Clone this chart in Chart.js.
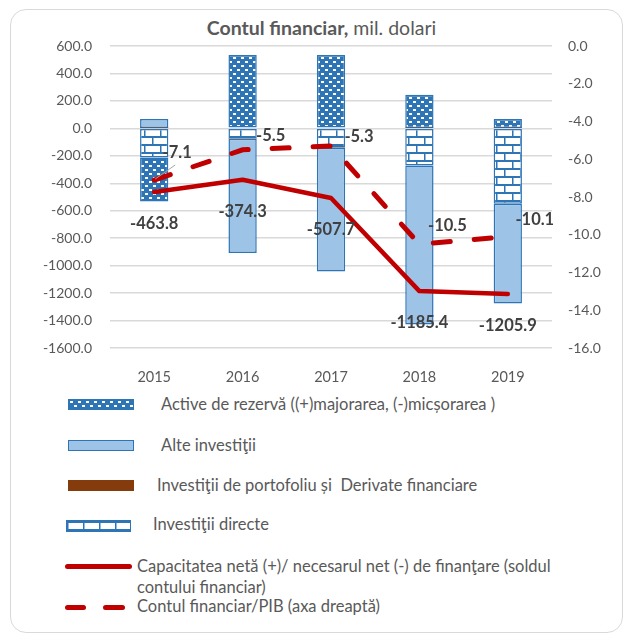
<!DOCTYPE html>
<html>
<head>
<meta charset="utf-8">
<title>Contul financiar</title>
<script src="https://cdn.jsdelivr.net/npm/chart.js"></script>
<style>
  body { margin:0; background:#fff; font-family:Lato, sans-serif; color:#595959; }
  #frame { position:absolute; left:10px; top:9px; width:611px; height:622px; border:1.5px solid #d9d9d9; border-radius:16px; }
  #title { position:absolute; left:0; width:633px; top:16px; line-height:24px; text-align:center; font-size:19.5px; color:#595959; padding-left:10px; box-sizing:border-box; }
  #chartBox { position:absolute; left:0; top:0; width:633px; height:392px; }
  .sw { position:absolute; box-sizing:border-box; }
  .lt { position:absolute; font-size:16.5px; line-height:21px; color:#595959; white-space:nowrap; }
</style>
</head>
<body>
<div id="frame"></div>
<div id="title"><b>Contul financiar,</b> mil. dolari</div>
<div id="chartBox"><canvas id="fin"></canvas></div>

<div class="sw" id="swRez" style="left:68px; top:399px; width:66px; height:11px; border:1.5px solid #2E75B6;"></div>
<div class="lt" style="left:161px; top:394px;">Active de rezervă ((+)majorarea, (-)micșorarea )</div>

<div class="sw" style="left:68px; top:440px; width:66px; height:11px; border:1.5px solid #2E75B6; background:#9DC3E6;"></div>
<div class="lt" style="left:161px; top:435px;">Alte investiţii</div>

<div class="sw" style="left:68px; top:480px; width:66px; height:11px; background:#843C0C;"></div>
<div class="lt" style="left:157px; top:475px;">Investiţii de portofoliu și&nbsp; Derivate financiare</div>

<div class="sw" id="swDir" style="left:66px; top:520px; width:65px; height:12px; border:1.5px solid #2E75B6;"></div>
<div class="lt" style="left:153px; top:514px;">Investiţii directe</div>

<div class="sw" style="left:65px; top:564px; width:67px; height:5px; border-radius:3px; background:#C00000;"></div>
<div class="lt" style="left:137px; top:556px;">Capacitatea netă (+)/ necesarul net (-) de finanţare (soldul<br>contului financiar)</div>

<div class="sw" style="left:65px; top:605px; width:21px; height:5px; border-radius:3px; background:#C00000;"></div>
<div class="sw" style="left:103px; top:605px; width:22px; height:5px; border-radius:3px; background:#C00000;"></div>
<div class="lt" style="left:137px; top:596px;">Contul financiar/PIB (axa dreaptă)</div>

<script>
  const years = ['2015', '2016', '2017', '2018', '2019'];
  const activeRezerva = [-320, 534, 534, 241, 66];
  const alteInvestitii = [66, -832, -900, -1158, -726];
  const portofoliu = [2, -3, -3, 3, 3];
  const investDirecte = [-212, -73, -139, -271, -549];
  const capacitateNeta = [-463.8, -374.3, -507.7, -1185.4, -1205.9];
  const contPib = [-7.1, -5.5, -5.3, -10.5, -10.1];
  const leftTicks = [600, 400, 200, 0, -200, -400, -600, -800, -1000, -1200, -1400, -1600];
  const rightTicks = [0, -2, -4, -6, -8, -10, -12, -14, -16];

  const BLUE = '#2E75B6';
  const RED = '#C00000';

  // pattern tiles like the excel fills
  function dotsTile() {
    const c = document.createElement('canvas');
    c.width = 8; c.height = 8;
    const g = c.getContext('2d');
    g.fillStyle = BLUE; g.fillRect(0, 0, 8, 8);
    g.fillStyle = '#fff';
    g.fillRect(1, 1, 3, 2);
    g.fillRect(5, 5, 3, 2);
    return c;
  }
  function brickTile() {
    const c = document.createElement('canvas');
    c.width = 16; c.height = 16;
    const g = c.getContext('2d');
    g.fillStyle = '#fff'; g.fillRect(0, 0, 16, 16);
    g.fillStyle = BLUE;
    g.fillRect(0, 0, 16, 2);
    g.fillRect(0, 8, 16, 2);
    g.fillRect(0, 0, 1.5, 8);
    g.fillRect(8, 8, 1.5, 8);
    return c;
  }
  const dots = dotsTile(), bricks = brickTile();
  document.getElementById('swRez').style.background = `url(${dots.toDataURL()})`;
  document.getElementById('swDir').style.background = `url(${bricks.toDataURL()})`;

  const ctx = document.getElementById('fin').getContext('2d');
  const dotsPattern = ctx.createPattern(dots, 'repeat');
  const brickPattern = ctx.createPattern(bricks, 'repeat');

  // label offsets for the right-axis line (px)
  const pibShift = [[23, -27], [28, -14], [28, -9], [28, -19], [27, -17]];

  const valueLabels = {
    id: 'valueLabels',
    afterDatasetsDraw(chart) {
      const c = chart.ctx;
      c.save();
      c.font = 'bold 16.5px Lato';
      c.fillStyle = '#404040';
      c.textAlign = 'center';
      c.textBaseline = 'middle';
      chart.getDatasetMeta(4).data.forEach((pt, i) => {
        c.fillText(capacitateNeta[i].toFixed(1), pt.x, pt.y + 32);
      });
      chart.getDatasetMeta(5).data.forEach((pt, i) => {
        const [dx, dy] = pibShift[i];
        if (i === 0) {
          c.strokeStyle = '#a6a6a6';
          c.lineWidth = 1;
          c.beginPath();
          c.moveTo(pt.x + 1, pt.y - 1);
          c.lineTo(pt.x + dx - 2, pt.y + dy + 12);
          c.stroke();
        }
        c.fillText(contPib[i].toFixed(1), pt.x + dx, pt.y + dy);
      });
      c.restore();
    }
  };

  Chart.defaults.font.family = 'Lato';
  Chart.defaults.color = '#595959';

  const barStyle = { type: 'bar', stack: 'bars', order: 1, borderColor: BLUE, borderWidth: 1.5,
                     borderSkipped: false, barPercentage: 0.32, categoryPercentage: 1 };

  new Chart(ctx, {
    data: {
      labels: years,
      datasets: [
        { ...barStyle, label: 'Investiţii directe', data: investDirecte, backgroundColor: brickPattern },
        { ...barStyle, label: 'Investiţii de portofoliu și Derivate financiare', data: portofoliu, backgroundColor: '#843C0C', borderWidth: 0 },
        { ...barStyle, label: 'Alte investiţii', data: alteInvestitii, backgroundColor: '#9DC3E6' },
        { ...barStyle, label: 'Active de rezervă', data: activeRezerva, backgroundColor: dotsPattern },
        { type: 'line', label: 'Capacitatea netă', data: capacitateNeta, yAxisID: 'y', stack: 'net', order: 0,
          borderColor: RED, borderWidth: 4.5, pointRadius: 0, tension: 0, borderCapStyle: 'round', borderJoinStyle: 'round' },
        { type: 'line', label: 'Contul financiar/PIB', data: contPib, yAxisID: 'y1', order: 0,
          borderColor: RED, borderWidth: 5, borderDash: [17, 24], pointRadius: 0, tension: 0, borderCapStyle: 'round' }
      ]
    },
    options: {
      responsive: true,
      maintainAspectRatio: false,
      animation: false,
      layout: { padding: { left: 20, right: 21, top: 46, bottom: 0 } },
      plugins: { legend: { display: false }, tooltip: { enabled: false } },
      scales: {
        x: {
          stacked: true,
          grid: { display: false },
          border: { display: false },
          ticks: { padding: 13, font: { size: 14.5 } },
          afterFit: s => { s.height = 44; }
        },
        y: {
          stacked: true,
          position: 'left',
          min: leftTicks[leftTicks.length - 1],
          max: leftTicks[0],
          afterBuildTicks: s => { s.ticks = leftTicks.map(v => ({ value: v })); },
          ticks: { padding: 18, font: { size: 14 }, callback: v => v.toFixed(1) },
          grid: { color: '#d9d9d9', lineWidth: 1.5, drawTicks: false },
          border: { display: false },
          afterFit: s => { s.width = 90; }
        },
        y1: {
          position: 'right',
          min: rightTicks[rightTicks.length - 1],
          max: rightTicks[0],
          afterBuildTicks: s => { s.ticks = rightTicks.map(v => ({ value: v })); },
          ticks: { padding: 16, font: { size: 14 }, callback: v => v.toFixed(1) },
          grid: { drawOnChartArea: false, drawTicks: false },
          border: { display: false },
          afterFit: s => { s.width = 60; }
        }
      }
    },
    plugins: [valueLabels]
  });
</script>
</body>
</html>
